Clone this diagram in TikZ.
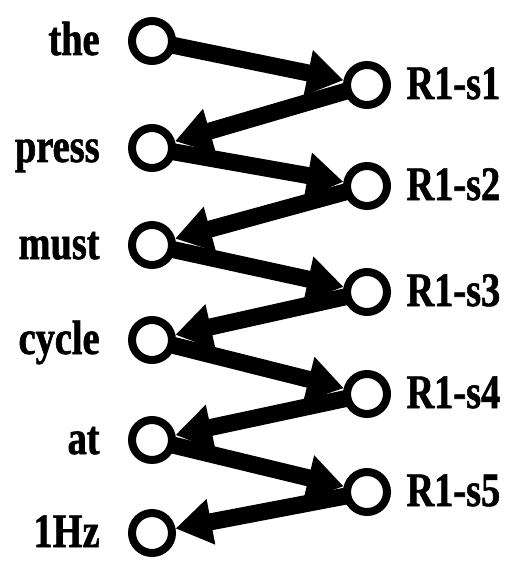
\documentclass[tikz,border=0pt]{standalone}
\usepackage{fontspec}
\setmainfont[FakeStretch=0.8,BoldFeatures={FakeBold=1.2}]{Liberation Serif}
\usetikzlibrary{positioning,arrows.meta,backgrounds}
\tikzset{
  tok/.style ={circle, draw=black, line width=4pt, fill=white, minimum size=20pt, inner sep=0pt},
  wlbl/.style={font=\fontsize{24}{28}\selectfont\bfseries, inner sep=0pt, text height=16pt, text depth=2pt},
  seg/.style ={draw=black, line width=8.5pt, -{Triangle[length=18pt,width=22pt]}},
}

\begin{document}
\begin{tikzpicture}[x=0.5pt,y=-0.5pt]
    \useasboundingbox (0,0) rectangle (510,561);
    % words
    \node[tok] (w1) at (152,41)  {};
    \node[tok] (w2) at (152,148) {};
    \node[tok] (w3) at (152,245) {};
    \node[tok] (w4) at (152,340) {};
    \node[tok] (w5) at (152,440) {};
    \node[tok] (w6) at (152,533) {};
    \node[wlbl,left=14pt of w1] (l1) {the};
    \node[wlbl,left=14pt of w2] (l2) {press};
    \node[wlbl,left=14pt of w3] (l3) {must};
    \node[wlbl,left=14pt of w4] (l4) {cycle};
    \node[wlbl,left=14pt of w5] (l5) {at};
    \node[wlbl,left=14pt of w6] (l6) {1Hz};
    % states
    \node[tok] (s1) at (367,85)  {};
    \node[tok] (s2) at (367,186) {};
    \node[tok] (s3) at (367,292) {};
    \node[tok] (s4) at (367,394) {};
    \node[tok] (s5) at (367,492) {};
    \node[wlbl,right=7.5pt of s1] (m1) {R1-s1};
    \node[wlbl,right=7.5pt of s2] (m2) {R1-s2};
    \node[wlbl,right=7.5pt of s3] (m3) {R1-s3};
    \node[wlbl,right=7.5pt of s4] (m4) {R1-s4};
    \node[wlbl,right=7.5pt of s5] (m5) {R1-s5};
    \begin{scope}[on background layer]
      \draw[seg] (w1.center) -- (s1);
      \draw[seg] (s1.center) -- (w2);
      \draw[seg] (w2.center) -- (s2);
      \draw[seg] (s2.center) -- (w3);
      \draw[seg] (w3.center) -- (s3);
      \draw[seg] (s3.center) -- (w4);
      \draw[seg] (w4.center) -- (s4);
      \draw[seg] (s4.center) -- (w5);
      \draw[seg] (w5.center) -- (s5);
      \draw[seg] (s5.center) -- (w6);
    \end{scope}
\end{tikzpicture}
\end{document}
